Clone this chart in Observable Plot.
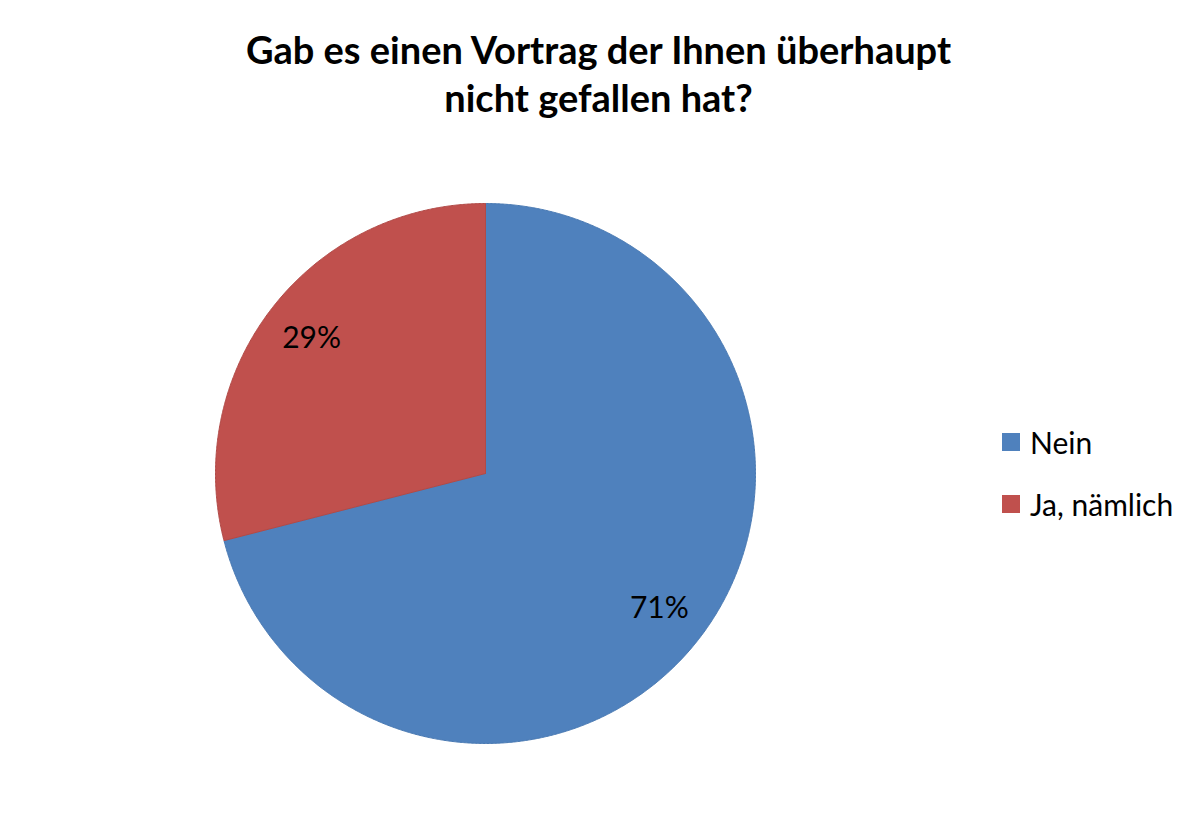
<!DOCTYPE html>
<html><head><meta charset="utf-8">
<script src="https://cdn.jsdelivr.net/npm/d3@7"></script>
<script src="https://cdn.jsdelivr.net/npm/@observablehq/plot@0.6"></script>
<style>
body{margin:0;background:#fff;font-family:Lato,"Open Sans",sans-serif;}
#wrap{position:relative;width:1200px;height:819px;overflow:hidden;}
#title{position:absolute;left:0;top:0;width:1197px;text-align:center;font-weight:bold;font-size:38px;line-height:48px;padding-top:25px;color:#000;}
#chart{position:absolute;left:0;top:150px;}
#legend{position:absolute;left:1002px;top:411px;}
.row{display:flex;align-items:center;height:62px;font-size:30px;color:#000;}
.sw{width:18px;height:18px;margin-right:10px;}
</style></head><body>
<div id="wrap">
<div id="title">Gab es einen Vortrag der Ihnen überhaupt<br>nicht gefallen hat?</div>
<div id="chart"></div>
<div id="legend"></div>
</div>
<script>
const categories = ["Nein", "Ja, nämlich"];
const values = [71, 29];
const labels = ["71%", "29%"];
const colors = ["#4F81BD", "#C0504D"];
const edges = ["#4A7AB3", "#B14A47"];

const arcs = d3.pie().sort(null)(values);
const slicePts = [];
arcs.forEach((a, i) => {
  slicePts.push({x: 0, y: 0, cat: categories[i]});
  const n = Math.max(2, Math.ceil((a.endAngle - a.startAngle) / 0.005));
  for (let k = 0; k <= n; k++) {
    const t = a.startAngle + (a.endAngle - a.startAngle) * k / n;
    slicePts.push({x: Math.sin(t), y: Math.cos(t), cat: categories[i]});
  }
  slicePts.push({x: 0, y: 0, cat: categories[i]});
});
const labelPts = arcs.map((a, i) => {
  const m = (a.startAngle + a.endAngle) / 2;
  return {x: 0.815 * Math.sin(m), y: 0.815 * Math.cos(m), label: labels[i]};
});

const plot = Plot.plot({
  width: 1200,
  height: 669,
  margin: 0,
  x: {domain: [-1, 1], range: [215, 755], axis: null},
  y: {domain: [-1, 1], range: [593, 53], axis: null},
  color: {domain: categories, range: colors},
  marks: [
    Plot.line(slicePts, {x: "x", y: "y", z: "cat", fill: "cat", stroke: (d) => edges[categories.indexOf(d.cat)], strokeWidth: 1, curve: "linear"}),
    Plot.text(labelPts, {x: "x", y: "y", text: "label", fontSize: 30, fill: "#000", fontFamily: "Lato, sans-serif"})
  ],
  style: {background: "transparent", fontFamily: "Lato, sans-serif"}
});
document.getElementById("chart").appendChild(plot);

const leg = document.getElementById("legend");
categories.forEach((c, i) => {
  const r = document.createElement("div");
  r.className = "row";
  const s = document.createElement("div");
  s.className = "sw";
  s.style.background = colors[i];
  const t = document.createElement("span");
  t.textContent = c;
  r.appendChild(s); r.appendChild(t);
  leg.appendChild(r);
});
</script>
</body></html>
